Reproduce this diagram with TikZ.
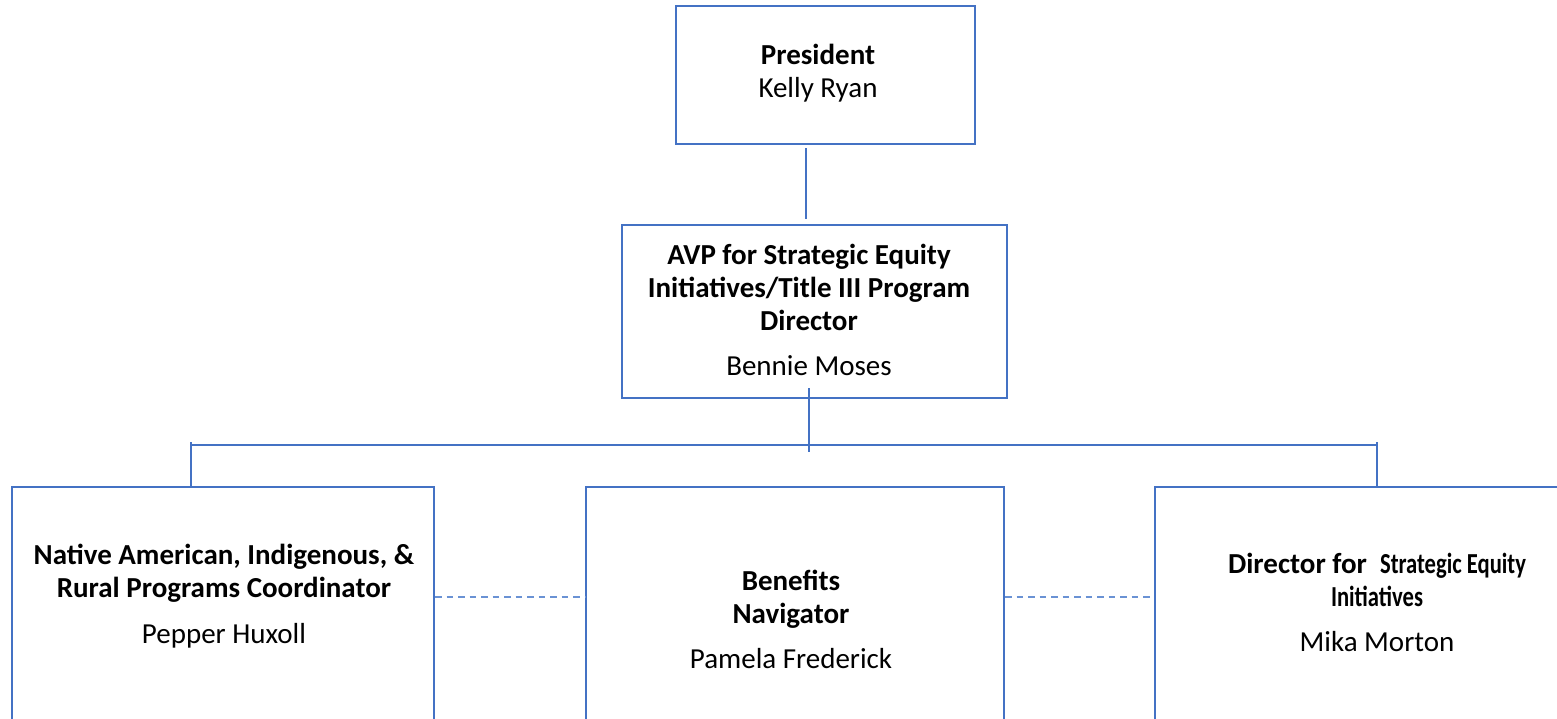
\documentclass[tikz,border=0pt]{standalone}
\usepackage{fontspec}
\setmainfont{Carlito}
\definecolor{orgblue}{HTML}{4472C4}
\definecolor{dashblue}{HTML}{6A92D4}
\newcommand{\squeeze}[1]{\scalebox{0.78}[1]{#1}}

\begin{document}
\begin{tikzpicture}[x=0.02cm,y=-0.02cm,
  card/.style={draw=orgblue, line width=1.3pt, inner sep=0pt},
  txt/.style={align=center, inner sep=0pt, font=\fontsize{16.5}{18.8}\selectfont},
  link/.style={draw=orgblue, line width=1.2pt},
  dotlink/.style={draw=dashblue, line width=0.8pt, dash pattern=on 0.13cm off 0.1cm}]
  \useasboundingbox (0,0) rectangle (1557,719);

  % top of the chart
  \node[card, minimum width=5.98cm, minimum height=2.76cm] (pres) at (825.5,75) {};
  \node[txt] (presT) at (818,73) {\textbf{President}\\Kelly Ryan};

  \node[card, minimum width=7.7cm, minimum height=3.46cm] (avp) at (814.5,311.5) {};
  \node[txt] (avpT) at (809,310) {\textbf{AVP for Strategic Equity}\\\textbf{Initiatives/Title III Program}\\\textbf{Director}\\[7pt]Bennie Moses};

  % staff row
  \node[card, anchor=north, minimum width=8.44cm, minimum height=6cm] (nac) at (223,486) {};
  \node[card, anchor=north, minimum width=8.36cm, minimum height=6cm] (ben) at (795,486) {};
  \node[card, anchor=north, minimum width=8.88cm, minimum height=6cm] (dir) at (1377,486) {};

  \node[txt] (nacT) at (224,596) {\textbf{Native American, Indigenous, \&}\\\textbf{Rural Programs Coordinator}\\[7pt]Pepper Huxoll};
  \node[txt] (benT) at (791,619.5) {\textbf{Benefits}\\\textbf{Navigator}\\[7pt]Pamela Frederick};
  \node[txt] (dirT) at (1377,602.5) {\textbf{Director for \ \squeeze{Strategic Equity}}\\\textbf{\squeeze{Initiatives}}\\[7pt]Mika Morton};

  \coordinate (presdrop) at (806,219);
  \coordinate (busM) at (809,452);
  \coordinate (busL) at (191,445);
  \coordinate (busR) at (1377,445);
  \coordinate (dashy) at (0,597);

  \draw[link] (pres.south -| presdrop) ++(0,3) -- (presdrop);
  \draw[link, line width=0.9pt] (avp.south -| busM) ++(0,-11) -- (busM);
  \draw[link] (busL) -- (busR);
  \draw[link] (busL) ++(0,-3) -- (nac.north -| busL);
  \draw[link] (busR) ++(0,-3) -- (dir.north -| busR);

  \draw[dotlink] (nac.east |- dashy) -- (ben.west |- dashy);
  \draw[dotlink] (ben.east |- dashy) -- (dir.west |- dashy);
\end{tikzpicture}
\end{document}
